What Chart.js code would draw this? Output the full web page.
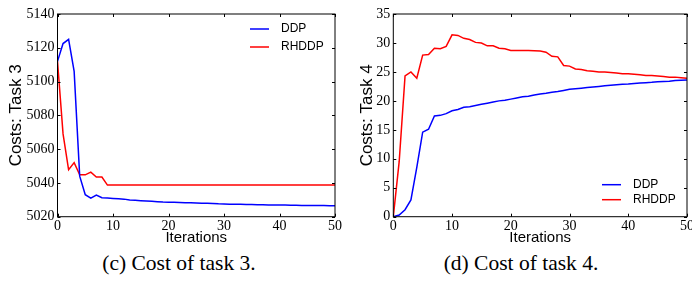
<!DOCTYPE html>
<html lang="en">
<head>
<meta charset="UTF-8">
<title>Cost of tasks 3 and 4</title>
<script src="https://cdn.jsdelivr.net/npm/chart.js"></script>
<style>
    body { margin: 0; background: #fff; width: 692px; height: 283px; position: relative; overflow: hidden; }
    .panel { position: absolute; top: 0; }
    #left-panel { left: 0; }
    #right-panel { left: 345px; }
    .caption { position: absolute; top: 250px; font-family: "Liberation Serif", serif; font-size: 21.5px; color: #000; white-space: nowrap; transform: translateX(-50%); line-height: 26px; }
</style>
</head>
<body>
<div class="panel" id="left-panel"><canvas id="task3" width="345" height="250"></canvas></div>
<div class="panel" id="right-panel"><canvas id="task4" width="347" height="250"></canvas></div>
<div class="caption" style="left: 179px;">(c) Cost of task 3.</div>
<div class="caption" style="left: 521px;">(d) Cost of task 4.</div>

<script>
const iterations = [0, 1, 2, 3, 4, 5, 6, 7, 8, 9, 10, 11, 12, 13, 14, 15, 16, 17, 18, 19, 20,
    21, 22, 23, 24, 25, 26, 27, 28, 29, 30, 31, 32, 33, 34, 35, 36, 37, 38, 39, 40,
    41, 42, 43, 44, 45, 46, 47, 48, 49, 50];

// task 3
const ddpTask3 = [5112, 5122.5, 5125, 5106, 5044, 5033, 5031, 5032.8, 5031.2, 5031, 5030.8,
    5030.6, 5030.4, 5029.9, 5029.7, 5029.5, 5029.3, 5029.1, 5028.9, 5028.7, 5028.6,
    5028.5, 5028.4, 5028.3, 5028.2, 5028.1, 5028.0, 5027.9, 5027.8, 5027.6, 5027.5,
    5027.4, 5027.4, 5027.3, 5027.2, 5027.2, 5027.1, 5027.1, 5027.0, 5027.0, 5026.9,
    5026.9, 5026.8, 5026.8, 5026.7, 5026.7, 5026.7, 5026.6, 5026.6, 5026.5, 5026.5];
const rhddpTask3 = [5112, 5069, 5047.8, 5052, 5044.8, 5044.8, 5046.4, 5043.5, 5043.5, 5038.7, 5038.7,
    5038.7, 5038.7, 5038.7, 5038.7, 5038.7, 5038.7, 5038.7, 5038.7, 5038.7, 5038.7,
    5038.7, 5038.7, 5038.7, 5038.7, 5038.7, 5038.7, 5038.7, 5038.7, 5038.7, 5038.7,
    5038.7, 5038.7, 5038.7, 5038.7, 5038.7, 5038.7, 5038.7, 5038.7, 5038.7, 5038.7,
    5038.7, 5038.7, 5038.7, 5038.7, 5038.7, 5038.7, 5038.7, 5038.7, 5038.7, 5038.7];

// task 4
const ddpTask4 = [0, 0.3, 1.2, 2.9, 8.5, 14.6, 15.1, 17.4, 17.5, 17.8, 18.3,
    18.5, 18.9, 19.0, 19.2, 19.4, 19.6, 19.8, 20.0, 20.1, 20.3,
    20.5, 20.7, 20.8, 21.0, 21.2, 21.3, 21.5, 21.6, 21.8, 22.0,
    22.1, 22.2, 22.3, 22.4, 22.5, 22.6, 22.7, 22.8, 22.85, 22.9,
    23.0, 23.1, 23.15, 23.2, 23.3, 23.35, 23.4, 23.5, 23.55, 23.6];
const rhddpTask4 = [0, 9.5, 24.3, 25.0, 23.9, 27.9, 28.0, 29.1, 29.0, 29.4, 31.4,
    31.3, 30.8, 30.6, 30.1, 30.0, 29.5, 29.5, 29.1, 29.0, 28.7,
    28.7, 28.7, 28.7, 28.65, 28.6, 28.4, 27.7, 27.6, 26.1, 26.0,
    25.5, 25.4, 25.2, 25.1, 25.0, 25.0, 24.9, 24.8, 24.7, 24.7,
    24.6, 24.5, 24.4, 24.4, 24.3, 24.2, 24.1, 24.1, 24.0, 23.9];

const xTicks = [0, 10, 20, 30, 40, 50];
const task3Ticks = [5020, 5040, 5060, 5080, 5100, 5120, 5140];
const task4Ticks = [0, 5, 10, 15, 20, 25, 30, 35];

const serif = '"Liberation Serif", "Times New Roman", serif';
const sans = '"Liberation Sans", Arial, sans-serif';

// matplotlib-style box with inward ticks on all four sides
const boxTicks = {
    id: 'boxTicks',
    afterDatasetsDraw(chart) {
        const { ctx, chartArea: a, scales: { x, y } } = chart;
        const len = 3;
        ctx.save();
        ctx.strokeStyle = '#000';
        ctx.lineWidth = 1;
        ctx.strokeRect(a.left, a.top, a.right - a.left, a.bottom - a.top);
        ctx.beginPath();
        x.ticks.forEach(t => {
            const px = Math.round(x.getPixelForValue(t.value)) + 0.5;
            ctx.moveTo(px, a.bottom); ctx.lineTo(px, a.bottom - len);
            ctx.moveTo(px, a.top); ctx.lineTo(px, a.top + len);
        });
        y.ticks.forEach(t => {
            const py = Math.round(y.getPixelForValue(t.value)) + 0.5;
            ctx.moveTo(a.left, py); ctx.lineTo(a.left + len, py);
            ctx.moveTo(a.right, py); ctx.lineTo(a.right - len, py);
        });
        ctx.stroke();
        ctx.restore();
    }
};

// legend drawn inside the plot area, no frame
const innerLegend = {
    id: 'innerLegend',
    afterDraw(chart, args, opts) {
        const { ctx, chartArea: a } = chart;
        const x0 = a.right - opts.fromRight;
        const y0 = opts.fromBottom != null ? a.bottom - opts.fromBottom : a.top + opts.fromTop;
        ctx.save();
        ctx.font = '12px ' + sans;
        ctx.textBaseline = 'middle';
        ctx.fillStyle = '#000';
        chart.data.datasets.forEach((ds, i) => {
            const yy = y0 + i * opts.gap;
            ctx.strokeStyle = ds.borderColor;
            ctx.lineWidth = 1.5;
            ctx.beginPath();
            ctx.moveTo(x0, yy); ctx.lineTo(x0 + 19, yy);
            ctx.stroke();
            ctx.fillText(ds.label, x0 + 31, yy);
        });
        ctx.restore();
    }
};

function makeChart(id, ddp, rhddp, yTicks, yTitle, yAxisWidth, rightPad, titlePad, legendOpts) {
    const pts = vals => vals.map((v, i) => ({ x: iterations[i], y: v }));
    return new Chart(document.getElementById(id), {
        type: 'line',
        data: {
            datasets: [
                { label: 'DDP', data: pts(ddp), borderColor: '#0000ff', borderWidth: 1.5, pointRadius: 0, tension: 0 },
                { label: 'RHDDP', data: pts(rhddp), borderColor: '#ff0000', borderWidth: 1.5, pointRadius: 0, tension: 0 }
            ]
        },
        options: {
            responsive: false,
            animation: false,
            layout: { padding: { left: 0, top: 14, right: rightPad, bottom: 0 } },
            plugins: {
                legend: { display: false },
                tooltip: { enabled: false },
                innerLegend: legendOpts
            },
            scales: {
                x: {
                    type: 'linear',
                    min: xTicks[0],
                    max: xTicks[xTicks.length - 1],
                    afterBuildTicks: s => { s.ticks = xTicks.map(v => ({ value: v })); },
                    grid: { display: false, drawTicks: false },
                    border: { display: false },
                    ticks: { color: '#000', font: { family: serif, size: 14 }, padding: 1, maxRotation: 0, callback: v => String(v) },
                    title: { display: true, text: 'Iterations', color: '#000', font: { family: sans, size: 15 }, padding: { top: 0, bottom: 3 } },
                    afterFit: s => { s.height = 33.3; s.paddingLeft = 0; s.paddingRight = 0; }
                },
                y: {
                    min: yTicks[0],
                    max: yTicks[yTicks.length - 1],
                    afterBuildTicks: s => { s.ticks = yTicks.map(v => ({ value: v })); },
                    grid: { display: false, drawTicks: false },
                    border: { display: false },
                    ticks: { color: '#000', font: { family: serif, size: 14 }, padding: 3, callback: v => String(v) },
                    title: { display: true, text: yTitle, color: '#000', font: { family: sans, size: 17 }, padding: { top: titlePad, bottom: 0 } },
                    afterFit: s => { s.width = yAxisWidth; s.paddingTop = 0; s.paddingBottom = 0; }
                }
            }
        },
        plugins: [boxTicks, innerLegend]
    });
}

makeChart('task3', ddpTask3, rhddpTask3, task3Ticks, 'Costs: Task 3', 57.5, 10, 6,
    { fromRight: 85, fromTop: 15, gap: 18 });
makeChart('task4', ddpTask4, rhddpTask4, task4Ticks, 'Costs: Task 4', 48.3, 5, 12,
    { fromRight: 85, fromBottom: 32, gap: 15 });
</script>
</body>
</html>
